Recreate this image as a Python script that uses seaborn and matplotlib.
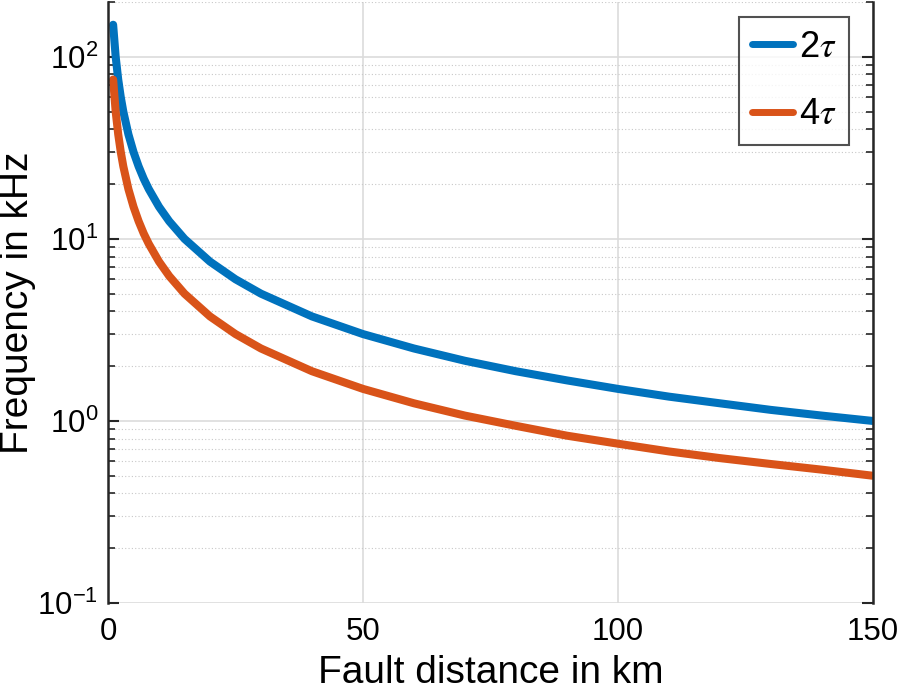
import numpy as np
import pandas as pd
import seaborn as sns
import matplotlib
matplotlib.use("Agg")
import matplotlib.pyplot as plt
from matplotlib.ticker import LogLocator, NullFormatter

# values
distance_km = [1, 1.5, 2, 2.5, 3, 4, 5, 6, 7, 8, 10, 12, 15, 20, 25, 30,
               40, 50, 60, 70, 80, 90, 100, 110, 120, 130, 140, 150]
freq_2tau = [150, 100, 75, 60, 50, 37.5, 30, 25, 21.4, 18.75, 15, 12.5, 10,
             7.5, 6, 5, 3.75, 3, 2.5, 2.14, 1.875, 1.67, 1.5, 1.36, 1.25,
             1.15, 1.07, 1.0]
freq_4tau = [75, 50, 37.5, 30, 25, 18.75, 15, 12.5, 10.7, 9.38, 7.5, 6.25, 5,
             3.75, 3, 2.5, 1.875, 1.5, 1.25, 1.07, 0.94, 0.83, 0.75, 0.68,
             0.625, 0.58, 0.54, 0.5]
series_names = [r"2$\tau$", r"4$\tau$"]
colors = ["#0072BD", "#D95319"]

df = pd.concat([
    pd.DataFrame({"x": distance_km, "y": freq_2tau, "s": series_names[0]}),
    pd.DataFrame({"x": distance_km, "y": freq_4tau, "s": series_names[1]}),
])

sns.set_style("white")
plt.rcParams['font.family'] = ['Liberation Sans', 'DejaVu Sans']
plt.rcParams['mathtext.fontset'] = 'stix'
plt.rcParams['text.color'] = 'black'
plt.rcParams['axes.labelcolor'] = 'black'
plt.rcParams['xtick.color'] = 'black'
plt.rcParams['ytick.color'] = 'black'

fig = plt.figure(figsize=(8.98, 6.92), dpi=100)
ax = fig.add_axes([0.1203, 0.1286, 0.8517, 0.8685])

sns.lineplot(data=df, x="x", y="y", hue="s", hue_order=series_names,
             palette=colors, linewidth=5.8, ax=ax, sort=False)

ax.set_yscale("log")
ax.set_xlim(0, 150)
ax.set_ylim(0.1, 200)
ax.set_xticks([0, 50, 100, 150])
ax.yaxis.set_major_locator(LogLocator(base=10, numticks=10))
ax.yaxis.set_minor_locator(LogLocator(base=10, subs=np.arange(2, 10), numticks=20))
ax.yaxis.set_minor_formatter(NullFormatter())

ax.grid(True, which="major", color="#dcdcdc", linewidth=1.2, linestyle="-")
ax.grid(True, which="minor", axis="y", color="#c8c8c8", linewidth=0.8, linestyle=(0, (1, 2)))
ax.set_axisbelow(True)

for side in ["top", "bottom"]:
    ax.spines[side].set_visible(False)
for side in ["left", "right"]:
    ax.spines[side].set_color("#262626")
    ax.spines[side].set_linewidth(1.8)

ax.tick_params(axis="x", length=0, labelsize=22.5, pad=10)
ax.tick_params(axis="y", which="major", direction="in", length=8, width=1.5,
               left=True, right=True, labelsize=22.5, color="#262626", pad=7)
ax.tick_params(axis="y", which="minor", direction="in", length=5, width=1.2,
               left=True, right=True, color="#262626")

ax.set_xlabel("Fault distance in km", fontsize=28, labelpad=6)
ax.set_ylabel("Frequency in kHz", fontsize=28)
ax.yaxis.set_label_coords(-0.094, 0.5)

leg = ax.legend(loc="upper right", bbox_to_anchor=(0.9685, 0.975), fontsize=26,
                frameon=True, fancybox=False, edgecolor="#262626",
                handlelength=1.15, handletextpad=0.15, borderpad=0.35,
                labelspacing=0.9, borderaxespad=0)
leg.get_frame().set_linewidth(1.5)
for line in leg.get_lines():
    line.set_linewidth(5)

fig.savefig("out.png", dpi=100)
